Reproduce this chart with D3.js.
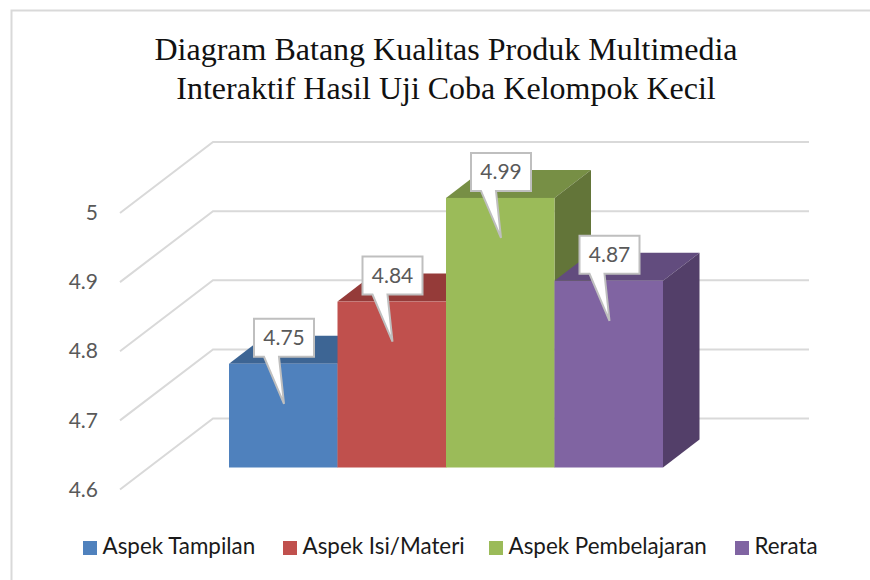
<!DOCTYPE html>
<html>
<head>
<meta charset="utf-8">
<script src="https://cdn.jsdelivr.net/npm/d3@7"></script>
<style>
    html, body { margin: 0; padding: 0; background: #fff; }
    svg { display: block; }
</style>
</head>
<body>
<div id="chart"></div>
<script>
// Data
const categories = ['Aspek Tampilan', 'Aspek Isi/Materi', 'Aspek Pembelajaran', 'Rerata'];
const values = [4.75, 4.84, 4.99, 4.87];
const yTicks = [4.6, 4.7, 4.8, 4.9, 5];
const titleLines = ['Diagram Batang Kualitas Produk Multimedia', 'Interaktif Hasil Uji Coba Kelompok Kecil'];

const frontColors = ['#4f81bd', '#c0504d', '#9bbb59', '#8064a2'];
const topColors = ['#3d6594', '#953b39', '#778f45', '#624c7e'];
const sideColors = ['#325378', '#7a302f', '#637539', '#533f69'];
const legendX = [83, 283, 489, 735];

const width = 870, height = 580;
const sansFont = 'Lato, "Open Sans", sans-serif';

const svg = d3.select('#chart')
    .append('svg')
    .attr('width', width)
    .attr('height', height);

// Frame of the chart, cut off at the right and bottom of the picture
svg.append('path')
    .attr('d', `M11.5,${height} V10.5 H${width}`)
    .attr('fill', 'none')
    .attr('stroke', '#d9d9d9')
    .attr('stroke-width', 2);

// Title
svg.append('g').selectAll('text')
    .data(titleLines)
    .enter()
    .append('text')
    .attr('x', 446)
    .attr('y', (d, i) => 60 + i * 38.5)
    .attr('text-anchor', 'middle')
    .attr('font-family', '"Liberation Serif", serif')
    .attr('font-size', 32)
    .attr('fill', '#111')
    .text(d => d);

// Scales: y is for the front edge of the floor, the rest are offsets in depth
const yScale = d3.scaleLinear().domain([4.6, 5]).range([489.5, 213]);
const xScale = d3.scaleBand().domain(categories).range([229, 663]);
const axisX = 120;
const wall = { dx: 93, dy: -71 };
const barFront = { dy: -22 };
const barDepth = { dx: 36.5, dy: -28 };
const gridRight = 809;

// Gridlines: up the floor/side wall, then along the back wall
svg.append('g').selectAll('path')
    .data(yTicks)
    .enter()
    .append('path')
    .attr('fill', 'none')
    .attr('stroke', '#d9d9d9')
    .attr('stroke-width', 2)
    .attr('d', d => {
        const y = yScale(d);
        return `M${axisX},${y} L${axisX + wall.dx},${y + wall.dy} H${gridRight}`;
    });

// Y axis, only the labels are visible
const yAxis = d3.axisLeft(yScale)
    .tickValues(yTicks)
    .tickSize(0)
    .tickPadding(22)
    .tickFormat(d => d);

const yAxisGroup = svg.append('g')
    .attr('transform', `translate(${axisX},0)`)
    .call(yAxis);
yAxisGroup.select('.domain').remove();
yAxisGroup.selectAll('text')
    .attr('font-family', sansFont)
    .attr('font-size', 21)
    .attr('fill', '#595959');

// Bars, left to right so that each one covers the side of the one before
const baseY = yScale(4.6) + barFront.dy;
const barY = d => yScale(d) + barFront.dy;

const bars = svg.append('g').selectAll('g')
    .data(categories)
    .enter()
    .append('g');

bars.append('path')
    .attr('fill', (d, i) => topColors[i])
    .attr('d', (d, i) => {
        const x0 = xScale(d), x1 = x0 + xScale.bandwidth(), y = barY(values[i]);
        return `M${x0},${y} L${x0 + barDepth.dx},${y + barDepth.dy} H${x1 + barDepth.dx} L${x1},${y} Z`;
    });

bars.append('path')
    .attr('fill', (d, i) => sideColors[i])
    .attr('d', (d, i) => {
        const x1 = xScale(d) + xScale.bandwidth(), y = barY(values[i]);
        return `M${x1},${y} L${x1 + barDepth.dx},${y + barDepth.dy} V${baseY + barDepth.dy} L${x1},${baseY} Z`;
    });

bars.append('rect')
    .attr('x', d => xScale(d))
    .attr('y', (d, i) => barY(values[i]))
    .attr('width', xScale.bandwidth())
    .attr('height', (d, i) => baseY - barY(values[i]))
    .attr('fill', (d, i) => frontColors[i]);

// Callout labels
const labels = svg.append('g').selectAll('g')
    .data(categories)
    .enter()
    .append('g')
    .attr('transform', (d, i) => `translate(${xScale(d) + 25},${barY(values[i]) - 45})`);

labels.append('path')
    .attr('fill', '#fff')
    .attr('stroke', '#bfbfbf')
    .attr('stroke-width', 2)
    .attr('d', 'M0,0 H60 V38 H25 L30,85 L10,38 H0 Z');

labels.append('text')
    .attr('x', 30)
    .attr('y', 26.5)
    .attr('text-anchor', 'middle')
    .attr('font-family', sansFont)
    .attr('font-size', 21)
    .attr('fill', '#595959')
    .text((d, i) => values[i]);

// Legend
const legend = svg.append('g').selectAll('g')
    .data(categories)
    .enter()
    .append('g')
    .attr('transform', (d, i) => `translate(${legendX[i]},541)`);

legend.append('rect')
    .attr('width', 14)
    .attr('height', 14)
    .attr('fill', (d, i) => frontColors[i]);

legend.append('text')
    .attr('x', 19.5)
    .attr('y', 13)
    .attr('font-family', sansFont)
    .attr('font-size', 22.4)
    .attr('fill', '#1a1a1a')
    .text(d => d);
</script>
</body>
</html>
